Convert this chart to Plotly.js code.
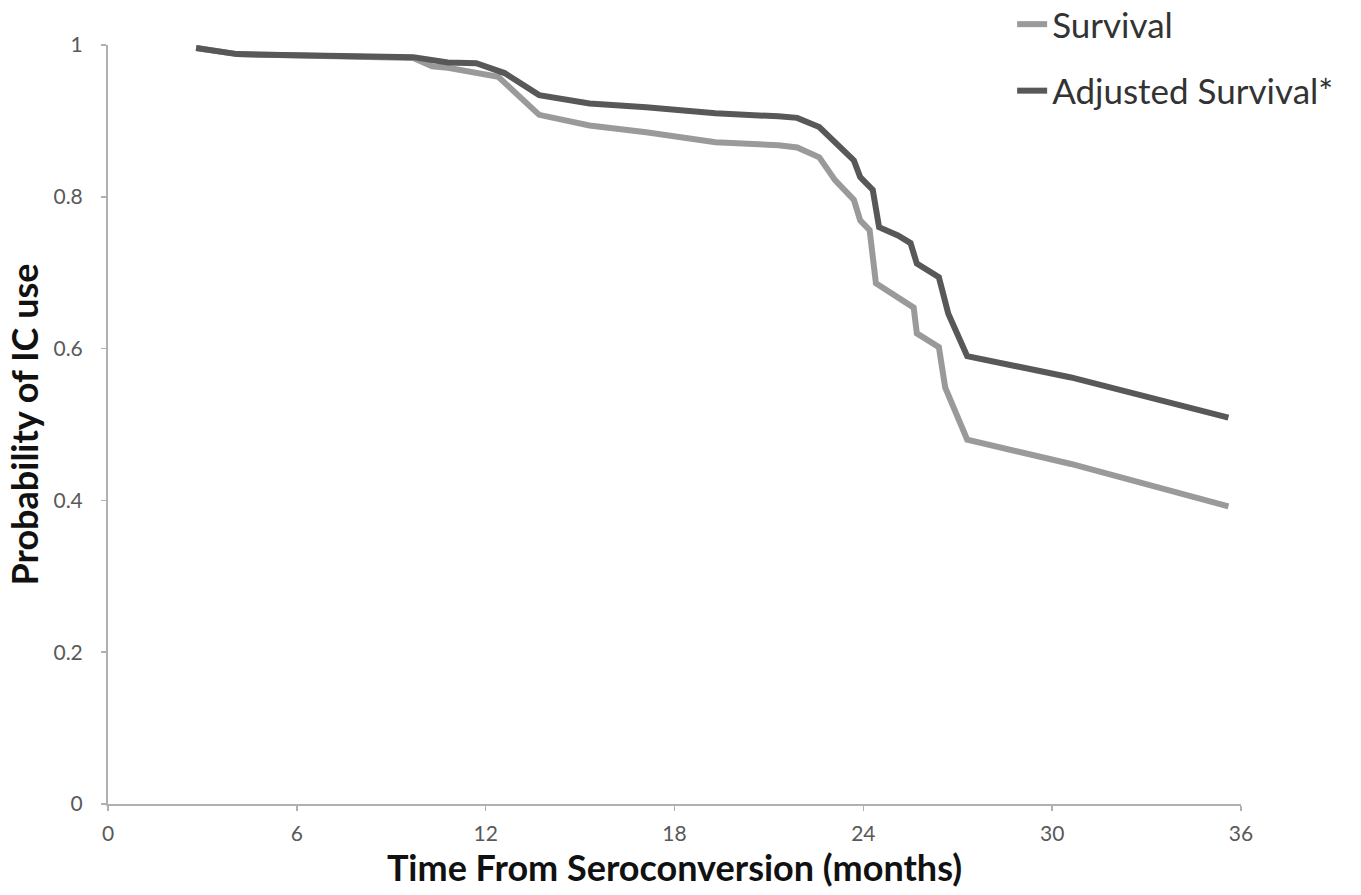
<!DOCTYPE html>
<html>
<head>
<meta charset="utf-8">
<script src="https://cdn.plot.ly/plotly-3.0.1.min.js"></script>
<style>html,body{margin:0;padding:0;background:#fff;}#chart{width:1361px;height:895px;}</style>
</head>
<body>
<div id="chart"></div>
<script>
// Time from seroconversion (months) and probabilities
const survivalMonths = [2.8, 4.1, 9.7, 10.3, 10.8, 12.4, 13.7, 15.3, 17.1, 19.3, 21.3, 21.9, 22.6, 23.1, 23.7, 23.9, 24.2, 24.4, 25.6, 25.7, 26.4, 26.6, 27.3, 29.2, 30.6, 35.6];
const survivalProb   = [0.996, 0.988, 0.983, 0.972, 0.970, 0.958, 0.908, 0.894, 0.885, 0.872, 0.868, 0.865, 0.852, 0.822, 0.796, 0.769, 0.756, 0.686, 0.654, 0.620, 0.602, 0.549, 0.480, 0.462, 0.448, 0.392];

const adjustedMonths = [2.8, 4.1, 9.7, 10.8, 11.7, 12.0, 12.6, 13.7, 15.3, 17.1, 19.3, 21.3, 21.9, 22.6, 23.0, 23.1, 23.7, 23.9, 24.3, 24.5, 25.1, 25.5, 25.7, 26.4, 26.7, 27.3, 29.2, 30.6, 35.6];
const adjustedProb   = [0.996, 0.988, 0.984, 0.977, 0.976, 0.972, 0.963, 0.934, 0.923, 0.918, 0.910, 0.906, 0.904, 0.892, 0.875, 0.871, 0.848, 0.826, 0.809, 0.760, 0.749, 0.739, 0.712, 0.694, 0.646, 0.590, 0.575, 0.562, 0.509];

const seriesNames = ["Survival", "Adjusted Survival*"];
const xTickValues = [0, 6, 12, 18, 24, 30, 36];
const yTickValues = [0, 0.2, 0.4, 0.6, 0.8, 1];

const FONT = "Lato, 'Open Sans', sans-serif";
const TICKFONT = {family: FONT, size: 21, color: "#595959"};

const traces = [
  {x: survivalMonths, y: survivalProb, name: seriesNames[0], mode: "lines", legendgroup: "a",
   line: {color: "#9a9a9a", width: 6}},
  {x: adjustedMonths, y: adjustedProb, name: seriesNames[1], mode: "lines", legendgroup: "b",
   line: {color: "#585858", width: 6}}
];

const layout = {
  width: 1361, height: 895,
  margin: {l: 108, r: 120, t: 45, b: 91, autoexpand: false},
  paper_bgcolor: "#fff", plot_bgcolor: "#fff",
  font: {family: FONT, color: "#595959", size: 20},
  showlegend: true,
  legend: {x: 0.798, y: 1.066, xanchor: "left", yanchor: "top", bgcolor: "rgba(0,0,0,0)",
           font: {family: FONT, size: 35, color: "#333"}, tracegroupgap: 18, traceorder: "grouped"},
  xaxis: {range: [0, 36], tickvals: xTickValues, ticks: "outside", ticklen: 5, tickwidth: 1.5, tickcolor: "#b0b0b0",
          showline: true, linecolor: "#b0b0b0", linewidth: 2, showgrid: false, zeroline: false,
          ticklabelstandoff: 5, tickfont: TICKFONT,
          title: {text: "Time From Seroconversion (months)", standoff: 2,
                  font: {family: FONT, size: 36, color: "#111", weight: "bold"}}},
  yaxis: {range: [0, 1], tickvals: yTickValues, ticks: "outside", ticklen: 5, tickwidth: 1.5, tickcolor: "#b0b0b0",
          showline: true, linecolor: "#b0b0b0", linewidth: 2, showgrid: false, zeroline: false,
          ticklabelstandoff: 14, tickfont: TICKFONT,
          title: {text: "Probability of IC use", standoff: 4,
                  font: {family: FONT, size: 36, color: "#111", weight: "bold"}}}
};

Plotly.newPlot("chart", traces, layout, {displayModeBar: false, staticPlot: true});
</script>
</body>
</html>
